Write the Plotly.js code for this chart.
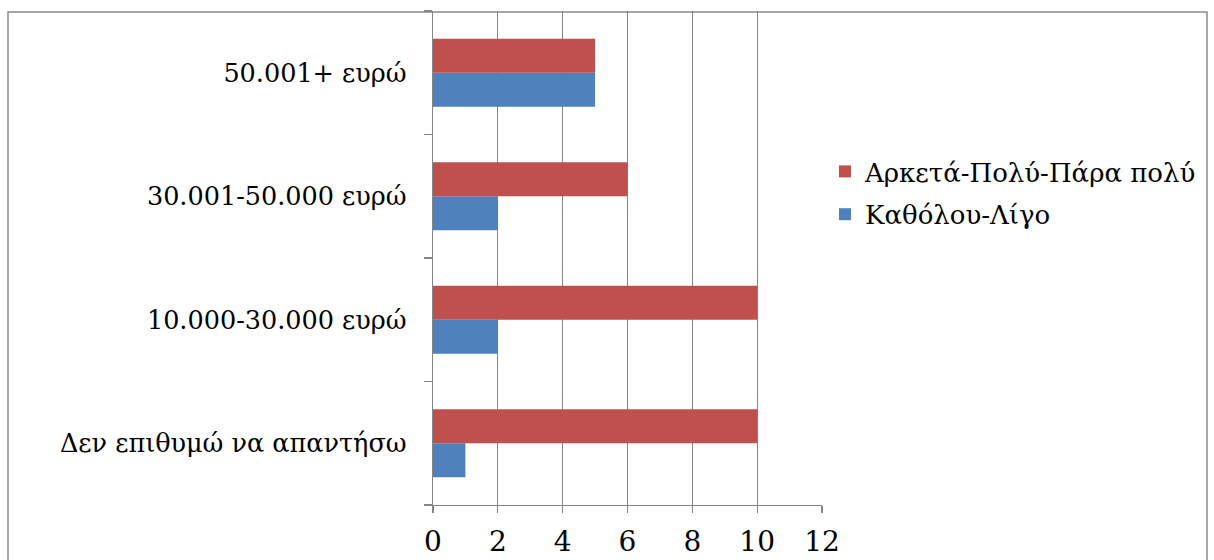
<!DOCTYPE html>
<html>
<head>
<meta charset="utf-8">
<script src="https://cdn.plot.ly/plotly-3.0.1.min.js"></script>
<style>html,body{margin:0;padding:0;background:#fff;}#chart{width:1214px;height:560px;}</style>
</head>
<body>
<div id="chart"></div>
<script>
const categories = ["Δεν επιθυμώ να απαντήσω", "10.000-30.000 ευρώ", "30.001-50.000 ευρώ", "50.001+ ευρώ"];
const seriesNames = ["Καθόλου-Λίγο", "Αρκετά-Πολύ-Πάρα πολύ"];
const lowValues = [1, 2, 2, 5];
const highValues = [10, 10, 6, 5];
const xTicks = [0, 2, 4, 6, 8, 10, 12];

const W = 1214, H = 560;
const L = 433, R = 822, T = 11, B = 505;
const px2x = p => (p - L) / (R - L);
const py2y = p => (B - p) / (B - T);
const FONT = "DejaVu Serif";
const GRID = "#868686";

const traces = [
  {type: "bar", orientation: "h", name: seriesNames[0], y: categories, x: lowValues,
   legendgroup: "low", legendrank: 2, marker: {color: "#4F81BD"}, hoverinfo: "x+name"},
  {type: "bar", orientation: "h", name: seriesNames[1], y: categories, x: highValues,
   legendgroup: "high", legendrank: 1, marker: {color: "#C0504D"}, hoverinfo: "x+name"}
];

const layout = {
  width: W, height: H,
  margin: {l: L, r: W - R, t: T, b: H - B, pad: 0},
  paper_bgcolor: "#fff", plot_bgcolor: "#fff",
  barmode: "group", bargap: 0.45, bargroupgap: 0,
  font: {family: FONT, size: 26, color: "#000"},
  showlegend: true,
  legend: {x: px2x(825), y: py2y(148), xanchor: "left", yanchor: "top",
           traceorder: "grouped", font: {family: FONT, size: 26, color: "#000"},
           bgcolor: "rgba(0,0,0,0)", itemwidth: 30, tracegroupgap: 6},
  xaxis: {range: [0, 12], tickvals: xTicks, ticktext: xTicks.map(String),
          showgrid: true, gridcolor: GRID, gridwidth: 1.3, zeroline: false,
          showline: true, linecolor: GRID, linewidth: 1.3,
          ticks: "outside", ticklen: 7, tickcolor: GRID, tickwidth: 1.3,
          ticklabelstandoff: 4,
          tickfont: {family: FONT, size: 28, color: "#000"}, fixedrange: true},
  yaxis: {type: "category", showgrid: false, zeroline: false,
          showline: true, linecolor: GRID, linewidth: 1.3,
          ticks: "outside", tickson: "boundaries", ticklen: 8, tickcolor: GRID, tickwidth: 1.3,
          ticklabelstandoff: 20,
          tickfont: {family: FONT, size: 25.5, color: "#000"}, fixedrange: true},
  shapes: [
    {type: "rect", xref: "paper", yref: "paper",
     x0: px2x(8), x1: px2x(1207), y0: py2y(640), y1: py2y(12),
     line: {color: "#8a8a8a", width: 1.5}, fillcolor: "rgba(0,0,0,0)", layer: "below"}
  ]
};

Plotly.newPlot("chart", traces, layout, {displayModeBar: false, staticPlot: true});
</script>
</body>
</html>
